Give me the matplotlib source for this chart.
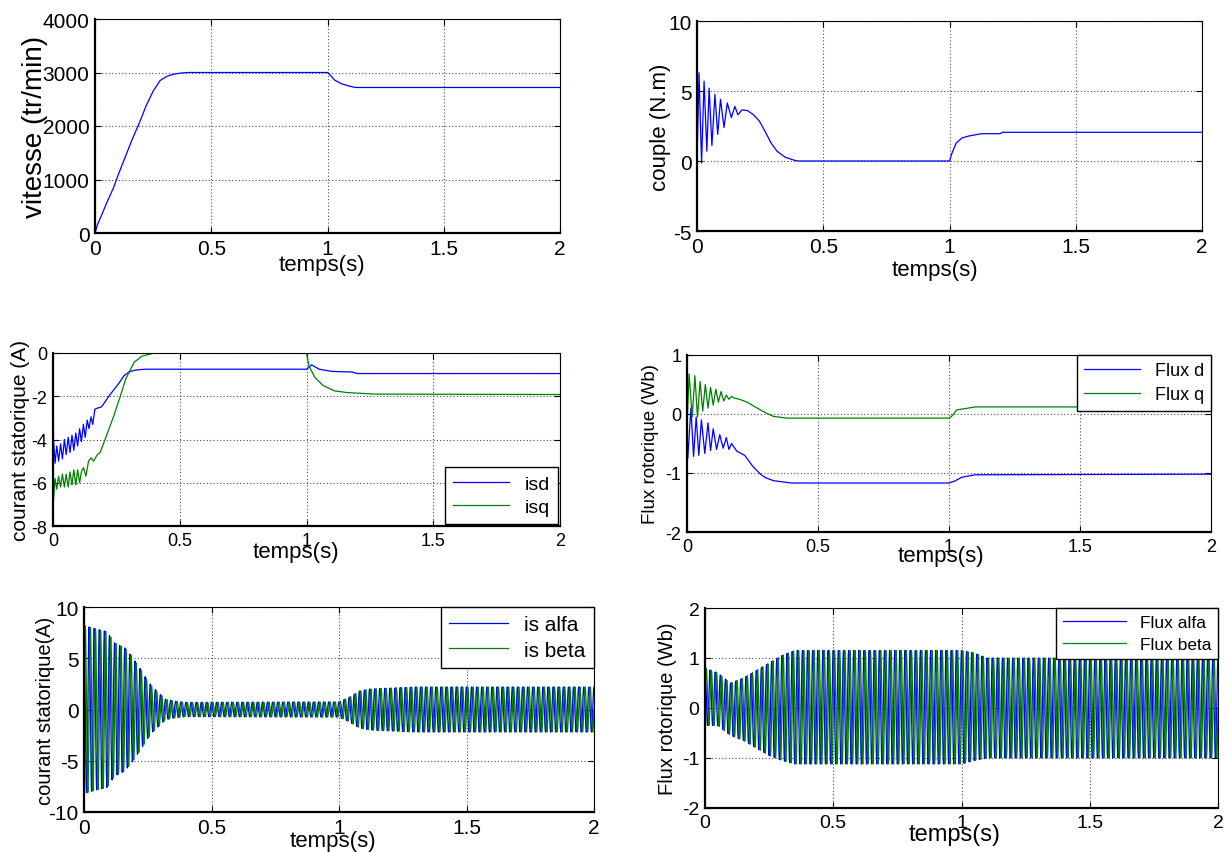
import numpy as np
import matplotlib
matplotlib.use('Agg')
from matplotlib import pyplot as plt

plt.rcParams['font.family'] = ['Liberation Sans', 'DejaVu Sans']

# ---- vitesse (tr/min) ----
vit_t = [0, 0.01, 0.03, 0.05, 0.08, 0.1, 0.13, 0.16, 0.19, 0.22, 0.25, 0.28,
         0.31, 0.34, 0.37, 0.40, 1.0, 1.01, 1.03, 1.06, 1.09, 1.12, 2.0]
vit = [0, 150, 350, 560, 850, 1090, 1420, 1750, 2050, 2380, 2650, 2850,
       2930, 2970, 2990, 3000, 3000, 2960, 2860, 2790, 2750, 2720, 2720]

# ---- couple (N.m) ----
cpl_t = [0, 0.008, 0.018, 0.028, 0.039, 0.048, 0.059, 0.071, 0.082, 0.093,
         0.107, 0.12, 0.136, 0.15, 0.162, 0.178, 0.2, 0.224, 0.247, 0.27,
         0.293, 0.317, 0.35, 0.386, 0.4, 1.0, 1.01, 1.027, 1.05, 1.08, 1.127,
         1.2, 1.21, 2.0]
cpl = [0, 6.3, -0.15, 5.7, 0.7, 5.2, 1.1, 4.75, 1.9, 4.4, 2.4, 4.15, 3.1,
       3.9, 3.3, 3.65, 3.6, 3.3, 2.85, 2.1, 1.3, 0.7, 0.26, 0.05, 0, 0, 0.57,
       1.3, 1.65, 1.8, 1.95, 1.95, 2.05, 2.05]

# ---- courant statorique isd / isq (A) ----
isd_t = [0, 0.002, 0.008, 0.015, 0.022, 0.03, 0.037, 0.045, 0.052, 0.06,
         0.067, 0.075, 0.082, 0.09, 0.097, 0.105, 0.112, 0.12, 0.127, 0.135,
         0.142, 0.15, 0.157, 0.165, 0.175, 0.19, 0.2, 0.22, 0.24, 0.26, 0.28,
         0.30, 0.32, 0.36, 1.0, 1.02, 1.05, 1.1, 1.18, 1.2, 2.0]
isd = [0, -4.0, -5.1, -4.3, -5.0, -4.2, -4.9, -4.0, -4.7, -3.9, -4.6, -3.8,
       -4.5, -3.7, -4.3, -3.5, -4.1, -3.3, -3.9, -3.1, -3.5, -2.95, -3.3,
       -2.6, -2.55, -2.5, -2.35, -2.0, -1.7, -1.4, -1.05, -0.88, -0.8, -0.75,
       -0.75, -0.55, -0.75, -0.85, -0.88, -0.95, -0.95]
isq_t = [0, 0.002, 0.008, 0.015, 0.022, 0.03, 0.037, 0.045, 0.052, 0.06,
         0.067, 0.075, 0.082, 0.09, 0.097, 0.105, 0.112, 0.12, 0.13, 0.14,
         0.15, 0.16, 0.175, 0.186, 0.21, 0.24, 0.264, 0.287, 0.32, 0.35, 0.4,
         1.0, 1.01, 1.033, 1.065, 1.11, 1.16, 1.27, 2.0]
isq = [0, -6.8, -5.8, -6.3, -5.7, -6.2, -5.6, -6.2, -5.6, -6.2, -5.5, -6.1,
       -5.4, -6.1, -5.4, -6.0, -5.5, -5.3, -5.7, -5.0, -4.85, -5.0, -4.7,
       -4.6, -3.85, -2.9, -2.05, -1.2, -0.43, -0.15, 0, 0, -0.6, -1.13, -1.5,
       -1.75, -1.83, -1.9, -1.92]

# ---- flux rotorique d / q (Wb) ----
fd_t = [0, 0.003, 0.015, 0.025, 0.035, 0.045, 0.055, 0.068, 0.08, 0.09, 0.1,
        0.113, 0.125, 0.138, 0.15, 0.16, 0.17, 0.19, 0.22, 0.25, 0.28, 0.3,
        0.33, 0.4, 1.0, 1.02, 1.05, 1.1, 2.0]
fd = [-0.2, -0.75, 0.1, -0.72, -0.05, -0.7, -0.1, -0.67, -0.15, -0.62,
      -0.25, -0.6, -0.35, -0.58, -0.4, -0.6, -0.5, -0.63, -0.7, -0.88, -1.02,
      -1.08, -1.13, -1.17, -1.17, -1.14, -1.07, -1.03, -1.02]
fq_t = [0, 0.008, 0.02, 0.03, 0.04, 0.05, 0.06, 0.07, 0.08, 0.09, 0.1, 0.11,
        0.12, 0.13, 0.14, 0.15, 0.16, 0.17, 0.18, 0.2, 0.23, 0.26, 0.3, 0.33,
        0.38, 1.0, 1.01, 1.03, 1.06, 1.1, 2.0]
fq = [-0.2, 0.68, -0.05, 0.65, -0.05, 0.55, 0.05, 0.5, 0.1, 0.45, 0.15,
      0.42, 0.2, 0.38, 0.22, 0.32, 0.25, 0.3, 0.27, 0.25, 0.2, 0.12, 0.02,
      -0.04, -0.07, -0.07, -0.04, 0.07, 0.09, 0.12, 0.12]

# ---- courant statorique alfa / beta : enveloppe ----
is_env_t = [0, 0.04, 0.09, 0.12, 0.16, 0.19, 0.22, 0.245, 0.265, 0.29, 0.32,
            0.36, 0.4, 1.0, 1.04, 1.08, 1.12, 1.3, 2.0]
is_env = [8.2, 7.9, 7.6, 6.5, 6.0, 5.1, 4.0, 3.0, 2.3, 1.7, 1.0, 0.8, 0.7,
          0.75, 1.2, 1.8, 2.0, 2.2, 2.2]

# ---- flux rotorique alfa / beta : enveloppes haute / basse ----
fl_env_t = [0, 0.05, 0.1, 0.15, 0.2, 0.25, 0.3, 0.35, 1.0, 1.05, 1.1, 2.0]
fl_env_hi = [0.8, 0.7, 0.5, 0.6, 0.75, 0.9, 1.05, 1.15, 1.15, 1.1, 1.0, 1.0]
fl_env_lo = [-0.35, -0.35, -0.55, -0.65, -0.8, -0.95, -1.05, -1.12, -1.12,
             -1.05, -1.0, -1.0]

f_stator = 50.0   # Hz
t_step = 0.001

x_ticks = [0, 0.5, 1, 1.5, 2]
x_ticklabels = ['0', '0.5', '1', '1.5', '2']

BLUE = (0, 0, 1)
GREEN = (0, 0.5, 0)
NARROW = ['Liberation Sans Narrow', 'Liberation Sans']
W, H = 1231, 853


def px_axes(fig, left, top, right, bottom):
    """Axes placed from pixel box of the reference."""
    return fig.add_axes([left / W, 1 - bottom / H, (right - left) / W,
                         (bottom - top) / H])


def matlab_style(ax, yticks, ylabel, ylab_x, ylab_fs, xlab_xy, xlab_fs, fs,
                 ylab_family=None):
    ax.set_xlim(0, 2)
    ax.set_ylim(yticks[0], yticks[-1])
    ax.set_xticks(x_ticks)
    ax.set_xticklabels(x_ticklabels)
    ax.set_yticks(yticks)
    ax.set_yticklabels([str(v) for v in yticks])
    ax.tick_params(direction='in', top=True, right=True, length=4,
                   width=0.8, labelsize=fs, pad=4)
    ax.grid(True, linestyle=(0, (1, 2)), color='0.3', linewidth=0.8)
    for side in ['left', 'bottom']:
        ax.spines[side].set_linewidth(1.6)
    for side in ['top', 'right']:
        ax.spines[side].set_linewidth(0.8)
    kw = {}
    if ylab_family:
        kw['family'] = ylab_family
    ax.set_ylabel(ylabel, fontsize=ylab_fs, **kw)
    ax.yaxis.set_label_coords(ylab_x, 0.5)
    ax.set_xlabel('temps(s)', fontsize=xlab_fs)
    ax.xaxis.set_label_coords(*xlab_xy)


def osc(env_t, hi, lo, phase):
    t = np.arange(0, 2 + t_step / 2, t_step)
    up = np.interp(t, env_t, hi)
    dn = np.interp(t, env_t, lo)
    return t, (up + dn) / 2 + (up - dn) / 2 * np.cos(2 * np.pi * f_stator * t + phase)


def legend(ax, loc, fs, hl, pad=0.0, spacing=0.3):
    leg = ax.legend(loc=loc, fontsize=fs, handlelength=hl, fancybox=False,
                    edgecolor='k', framealpha=1, borderaxespad=pad,
                    labelspacing=spacing, borderpad=0.4)
    leg.get_frame().set_linewidth(1.0)


fig = plt.figure(figsize=(W / 100, H / 100), dpi=100)

# vitesse
ax1 = px_axes(fig, 95, 20, 560, 234)
ax1.plot(vit_t, vit, color=BLUE, lw=0.9)
matlab_style(ax1, [0, 1000, 2000, 3000, 4000], 'vitesse (tr/min)', -0.1,
             20, (0.488, -0.10), 16, 15)

# couple
ax2 = px_axes(fig, 697, 22, 1202, 232)
ax2.plot(cpl_t, cpl, color=BLUE, lw=0.9)
matlab_style(ax2, [-5, 0, 5, 10], 'couple (N.m)', -0.051, 16,
             (0.471, -0.135), 16, 15)

# isd / isq
ax3 = px_axes(fig, 53, 354, 560, 527)
ax3.plot(isd_t, isd, color=BLUE, lw=0.9, label='isd')
ax3.plot(isq_t, isq, color=GREEN, lw=0.9, label='isq')
matlab_style(ax3, [-8, -6, -4, -2, 0], 'courant statorique (A)', -0.045, 15,
             (0.48, -0.085), 16, 13, NARROW)
legend(ax3, 'lower right', 14, 2.9, 0.1)

# flux d / q
ax4 = px_axes(fig, 687, 356, 1211, 533)
ax4.plot(fd_t, fd, color=BLUE, lw=0.9, label='Flux d')
ax4.plot(fq_t, fq, color=GREEN, lw=0.9, label='Flux q')
matlab_style(ax4, [-2, -1, 0, 1], 'Flux rotorique (Wb)', -0.053, 13.5,
             (0.485, -0.075), 16, 13, NARROW)
legend(ax4, 'upper right', 13, 3.1, 0.0, 0.4)

# is alfa / beta
ax5 = px_axes(fig, 84, 608, 594, 813)
neg_is = [-v for v in is_env]
t5, ia = osc(is_env_t, is_env, neg_is, 0.0)
_, ib = osc(is_env_t, is_env, neg_is, -np.pi / 2)
ax5.plot(t5, ia, color=BLUE, lw=0.9, label='is alfa')
ax5.plot(t5, ib, color=GREEN, lw=0.9, label='is beta')
matlab_style(ax5, [-10, -5, 0, 5, 10], 'courant statorique(A)', -0.057, 14.5,
             (0.488, -0.09), 16, 15)
legend(ax5, 'upper right', 15, 2.8)

# flux alfa / beta
ax6 = px_axes(fig, 705, 609, 1218, 809)
t6, fa = osc(fl_env_t, fl_env_hi, fl_env_lo, 0.0)
_, fb = osc(fl_env_t, fl_env_hi, fl_env_lo, -np.pi / 2)
ax6.plot(t6, fa, color=BLUE, lw=0.9, label='Flux alfa')
ax6.plot(t6, fb, color=GREEN, lw=0.9, label='Flux beta')
matlab_style(ax6, [-2, -1, 0, 1, 2], 'Flux rotorique (Wb)', -0.055, 14.5,
             (0.487, -0.075), 17, 14)
legend(ax6, 'upper right', 12.5, 3.6, 0.0, 0.4)

fig.savefig('out.png', dpi=100)
